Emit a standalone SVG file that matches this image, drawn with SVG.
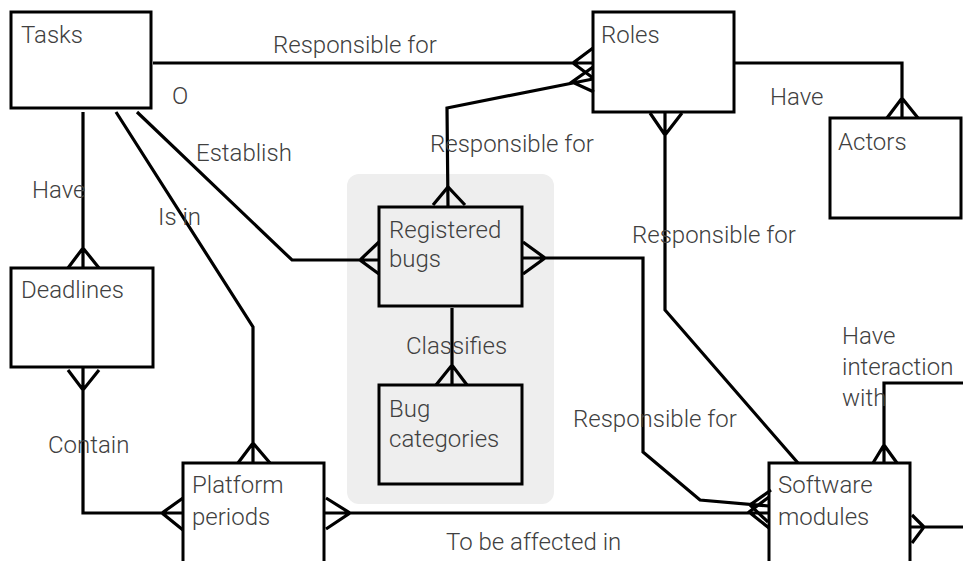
<svg xmlns="http://www.w3.org/2000/svg" width="963" height="561" viewBox="0 0 963 561">
  <style>
    .box { fill: #ffffff; stroke: #000000; stroke-width: 3; }
    .boxg { fill: #eeeeee; stroke: #000000; stroke-width: 3; }
    .lbl { font-family: Roboto, "Liberation Sans", sans-serif; font-weight: 300; font-size: 24px; fill: #404040; }
    .conn { fill: none; stroke: #000000; stroke-width: 3.2; stroke-linejoin: miter; }
  </style>

  <rect width="963" height="561" fill="#ffffff"/>

  <!-- shaded cluster around the bug entities -->
  <rect id="bug-cluster" x="347" y="174" width="207" height="330" rx="12" fill="#eeeeee"/>

  <!-- entities -->
  <g id="tasks">
    <rect class="box" x="11" y="12" width="140" height="96"/>
    <text class="lbl" x="21" y="43">Tasks</text>
  </g>
  <g id="roles">
    <rect class="box" x="593" y="12" width="141" height="100"/>
    <text class="lbl" x="601" y="43">Roles</text>
  </g>
  <g id="actors">
    <rect class="box" x="830" y="118" width="131" height="100"/>
    <text class="lbl" x="838" y="150">Actors</text>
  </g>
  <g id="deadlines">
    <rect class="box" x="11" y="268" width="142" height="99"/>
    <text class="lbl" x="21" y="298">Deadlines</text>
  </g>
  <g id="registered-bugs">
    <rect class="boxg" x="379" y="207" width="143" height="99"/>
    <text class="lbl" x="389" y="238">Registered</text>
    <text class="lbl" x="389" y="267">bugs</text>
  </g>
  <g id="bug-categories">
    <rect class="boxg" x="379" y="385" width="143" height="99"/>
    <text class="lbl" x="389" y="417">Bug</text>
    <text class="lbl" x="389" y="447">categories</text>
  </g>
  <g id="platform-periods">
    <rect class="box" x="183" y="463" width="141" height="110"/>
    <text class="lbl" x="192" y="493">Platform</text>
    <text class="lbl" x="192" y="525">periods</text>
  </g>
  <g id="software-modules">
    <rect class="box" x="769" y="463" width="141" height="110"/>
    <text class="lbl" x="778" y="493">Software</text>
    <text class="lbl" x="778" y="525">modules</text>
  </g>

  <!-- relationships with crow's-foot ends -->
  <g id="connectors">
    <!-- Tasks -> Roles -->
    <path class="conn" d="M153 63 H593 M593 48 L573 63 L593 78"/>
    <!-- Registered bugs -> Roles -->
    <path class="conn" d="M448 207 L447 108 L593 79 M593 67 L572 82 L594 92"/>
    <path class="conn" d="M433 205 L448 187 L465 205"/>
    <!-- Roles -> Actors -->
    <path class="conn" d="M734 63 H902 V118 M887 118 L902 98 L918 118"/>
    <!-- Roles -> Software modules -->
    <path class="conn" d="M665 112 V310 L798 463 M650 113 L665 135 L682 113"/>
    <!-- Tasks -> Deadlines -->
    <path class="conn" d="M83 112 V268 M68 268 L83 248 L99 268"/>
    <!-- Deadlines -> Platform periods -->
    <path class="conn" d="M83 367 V513 H183 M68 370 L83 390 L99 370 M183 498 L162 513 L183 530"/>
    <!-- Tasks -> Platform periods -->
    <path class="conn" d="M116 112 L253 327 V463 M238 463 L253 443 L270 463"/>
    <!-- Tasks -> Registered bugs -->
    <path class="conn" d="M137 112 L292 260 H379 M379 242 L360 260 L379 274"/>
    <!-- Registered bugs -> Bug categories -->
    <path class="conn" d="M452 308 V385 M436 385 L452 365 L467 385"/>
    <!-- Registered bugs -> Software modules -->
    <path class="conn" d="M523 258 H643 V452 L700 500 L769 506 M523 242 L545 258 L523 274 M771 490 L750 505 L768 522"/>
    <!-- Platform periods -> Software modules -->
    <path class="conn" d="M324 513 H769 M326 498 L350 513 L326 529 M769 497 L749 512 L769 528"/>
    <!-- Software modules self relation -->
    <path class="conn" d="M884 463 V383 H963 M910 527 H963 M873 463 L884 445 L897 463 M912 515 L924 527 L912 543"/>
  </g>

  <!-- relationship labels -->
  <g id="labels">
    <text class="lbl" x="273" y="53">Responsible for</text>
    <text class="lbl" x="172" y="104">O</text>
    <text class="lbl" x="770" y="105">Have</text>
    <text class="lbl" x="196" y="161">Establish</text>
    <text class="lbl" x="430" y="152">Responsible for</text>
    <text class="lbl" x="32" y="198">Have</text>
    <text class="lbl" x="158" y="225">Is in</text>
    <text class="lbl" x="632" y="243">Responsible for</text>
    <text class="lbl" x="406" y="354">Classifies</text>
    <text class="lbl" x="842" y="344">Have</text>
    <text class="lbl" x="842" y="375">interaction</text>
    <text class="lbl" x="842" y="406">with</text>
    <text class="lbl" x="573" y="427">Responsible for</text>
    <text class="lbl" x="48" y="453">Contain</text>
    <text class="lbl" x="446" y="550">To be affected in</text>
  </g>
</svg>
